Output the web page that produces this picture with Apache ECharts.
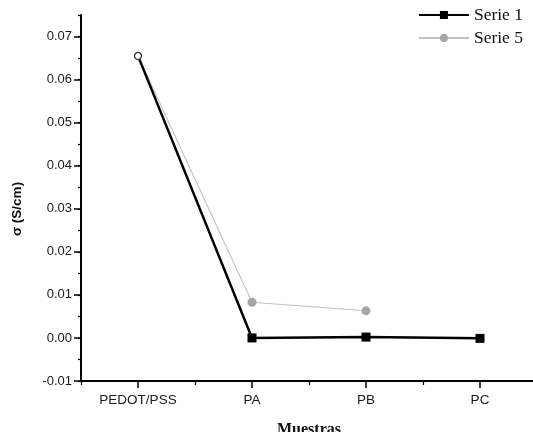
<!DOCTYPE html>
<html>
<head>
<meta charset="utf-8">
<script src="https://cdn.jsdelivr.net/npm/echarts@6/dist/echarts.min.js"></script>
<style>
  html, body { margin: 0; padding: 0; background: #ffffff; }
  #chart { width: 533px; height: 432px; }
</style>
</head>
<body>
<div id="chart"></div>
<script>
// Sample names along the x axis
var muestras = ['PEDOT/PSS', 'PA', 'PB', 'PC'];

// Conductivity σ (S/cm) per sample
var serie1 = [0.0655, 0.0000, 0.0002, -0.0001];
var serie5 = [0.0655, 0.0083, 0.0063, null];

// Labelled y ticks
var yTicks = [-0.01, 0.00, 0.01, 0.02, 0.03, 0.04, 0.05, 0.06, 0.07];

var labelFont = { fontFamily: 'Liberation Sans', fontSize: 13, color: '#1a1a1a' };

// First point of Serie 1 uses a small hollow marker
var serie1Data = serie1.map(function (v, i) {
  if (i === 0) {
    return { value: v, symbol: 'circle', symbolSize: 7,
             itemStyle: { color: '#ffffff', borderColor: '#333333', borderWidth: 1.3 } };
  }
  return v;
});
var serie5Data = serie5.map(function (v, i) {
  if (i === 0) return { value: v, symbol: 'none' };
  return v;
});

var chart = echarts.init(document.getElementById('chart'), null, { renderer: 'canvas' });

chart.setOption({
  animation: false,
  backgroundColor: '#ffffff',
  grid: { left: 81, top: 15, right: -4, bottom: 51, containLabel: false, outerBoundsMode: 'none' },
  legend: {
    orient: 'vertical',
    right: 5,
    top: 1,
    itemWidth: 50,
    itemHeight: 10,
    itemGap: 5,
    textStyle: { fontFamily: 'Liberation Serif', fontSize: 17.5, color: '#111' },
    data: ['Serie 1', 'Serie 5']
  },
  xAxis: [
    {
      type: 'category',
      data: muestras,
      boundaryGap: true,
      name: 'Muestras',
      nameLocation: 'middle',
      nameGap: 41,
      nameTextStyle: { fontFamily: 'Liberation Serif', fontSize: 16, fontWeight: 'bold', color: '#111',
                       verticalAlign: 'top' },
      axisLine: { show: true, onZero: false, lineStyle: { color: '#000', width: 2 } },
      axisTick: { show: true, alignWithLabel: true, length: 7, inside: false,
                  lineStyle: { color: '#000', width: 1.5 } },
      axisLabel: Object.assign({}, labelFont, { margin: 12, fontSize: 13.5 }),
      splitLine: { show: false }
    },
    {
      // half-step ticks between samples
      type: 'category',
      data: muestras,
      boundaryGap: true,
      position: 'bottom',
      axisLine: { show: false, onZero: false },
      axisTick: { show: true, alignWithLabel: false, length: 4,
                  lineStyle: { color: '#000', width: 1.2 } },
      axisLabel: { show: false },
      splitLine: { show: false }
    }
  ],
  yAxis: [
    {
      type: 'value',
      min: -0.01,
      max: 0.075,
      interval: 0.005,
      name: 'σ (S/cm)',
      nameLocation: 'middle',
      nameGap: 57,
      nameRotate: 90,
      nameTextStyle: { fontFamily: 'Liberation Sans', fontSize: 13.5, fontWeight: 'bold', color: '#111',
                       padding: [0, 22, 0, 0] },
      axisLine: { show: true, onZero: false, lineStyle: { color: '#000', width: 2 } },
      axisTick: { show: true, length: 3, inside: false, lineStyle: { color: '#000', width: 1.2 } },
      axisLabel: Object.assign({
        margin: 9,
        formatter: function (v) {
          var k = Math.round(v * 1000);
          if (k % 10 !== 0 || k > 70) return '';
          return (k / 1000).toFixed(2);
        }
      }, labelFont),
      splitLine: { show: false }
    },
    {
      // longer ticks at the labelled values
      type: 'value',
      min: -0.01,
      max: 0.075,
      interval: 0.01,
      position: 'left',
      axisLine: { show: false, onZero: false },
      axisTick: { show: true, length: 7, customValues: yTicks,
                  lineStyle: { color: '#000', width: 1.5 } },
      axisLabel: { show: false },
      splitLine: { show: false }
    }
  ],
  series: [
    {
      name: 'Serie 5',
      type: 'line',
      xAxisIndex: 0,
      yAxisIndex: 0,
      data: serie5Data,
      symbol: 'circle',
      symbolSize: 9,
      connectNulls: false,
      lineStyle: { color: '#c2c2c2', width: 1.1 },
      itemStyle: { color: '#a6a6a6' },
      z: 2
    },
    {
      name: 'Serie 1',
      type: 'line',
      xAxisIndex: 0,
      yAxisIndex: 0,
      data: serie1Data,
      symbol: 'rect',
      symbolSize: 9,
      showAllSymbol: true,
      lineStyle: { color: '#000', width: 2.5 },
      itemStyle: { color: '#000' },
      z: 3
    }
  ]
});
</script>
</body>
</html>
